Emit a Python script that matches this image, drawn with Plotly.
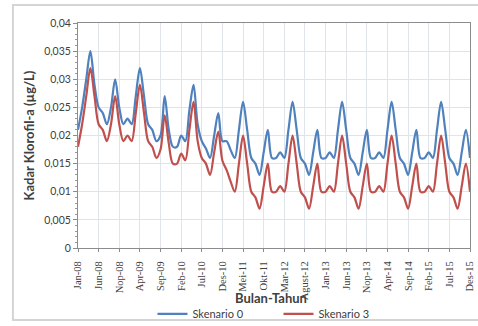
import plotly.graph_objects as go

# Monthly chlorophyll-a concentration, Jan-2008 .. Dec-2015 (96 months)
skenario_0 = [
    0.021, 0.025, 0.030, 0.035, 0.029, 0.025, 0.024, 0.022, 0.025, 0.030, 0.025, 0.022,   # 2008
    0.023, 0.022, 0.027, 0.032, 0.027, 0.022, 0.021, 0.019, 0.020, 0.027, 0.021, 0.018,   # 2009
    0.018, 0.020, 0.019, 0.0245, 0.029, 0.022, 0.019, 0.0177, 0.016, 0.020, 0.024, 0.019, # 2010
    0.019, 0.0174, 0.016, 0.021, 0.026, 0.021, 0.016, 0.015, 0.013, 0.017, 0.021, 0.016,  # 2011
    0.016, 0.017, 0.016, 0.021, 0.026, 0.021, 0.016, 0.015, 0.013, 0.017, 0.021, 0.016,   # 2012
    0.016, 0.017, 0.016, 0.021, 0.026, 0.021, 0.016, 0.015, 0.013, 0.017, 0.021, 0.016,   # 2013
    0.016, 0.017, 0.016, 0.021, 0.026, 0.021, 0.016, 0.015, 0.013, 0.017, 0.021, 0.016,   # 2014
    0.016, 0.017, 0.016, 0.021, 0.026, 0.021, 0.016, 0.015, 0.013, 0.017, 0.021, 0.016,   # 2015
]
skenario_3 = [
    0.018, 0.022, 0.027, 0.032, 0.027, 0.022, 0.021, 0.019, 0.022, 0.027, 0.022, 0.019,   # 2008
    0.020, 0.019, 0.024, 0.029, 0.024, 0.019, 0.018, 0.016, 0.0175, 0.0236, 0.0186, 0.015,  # 2009
    0.015, 0.0168, 0.0156, 0.021, 0.026, 0.019, 0.016, 0.015, 0.013, 0.017, 0.0207, 0.0155, # 2010
    0.0139, 0.0118, 0.010, 0.015, 0.020, 0.015, 0.010, 0.009, 0.007, 0.011, 0.015, 0.010, # 2011
    0.010, 0.011, 0.010, 0.015, 0.020, 0.015, 0.010, 0.009, 0.007, 0.011, 0.015, 0.010,   # 2012
    0.010, 0.011, 0.010, 0.015, 0.020, 0.015, 0.010, 0.009, 0.007, 0.011, 0.015, 0.010,   # 2013
    0.010, 0.011, 0.010, 0.015, 0.020, 0.015, 0.010, 0.009, 0.007, 0.011, 0.015, 0.010,   # 2014
    0.010, 0.011, 0.010, 0.015, 0.020, 0.015, 0.010, 0.009, 0.007, 0.011, 0.015, 0.010,   # 2015
]

# Category labels shown every fifth month
x_labels = ["Jan-08", "Jun-08", "Nop-08", "Apr-09", "Sep-09", "Feb-10", "Jul-10",
            "Des-10", "Mei-11", "Okt-11", "Mar-12", "Agust-12", "Jan-13", "Jun-13",
            "Nop-13", "Apr-14", "Sep-14", "Feb-15", "Jul-15", "Des-15"]
x_label_pos = [5 * k for k in range(len(x_labels))]

y_tick_vals = [0, 0.005, 0.01, 0.015, 0.02, 0.025, 0.03, 0.035, 0.04]
y_tick_text = ["0", "0,005", "0,01", "0,015", "0,02", "0,025", "0,03", "0,035", "0,04"]

months = list(range(len(skenario_0)))

fig = go.Figure()
fig.add_trace(go.Scatter(
    x=months, y=skenario_0, name="Skenario 0", mode="lines",
    line=dict(color="#4F81BD", width=2.2, shape="spline", smoothing=0.9),
))
fig.add_trace(go.Scatter(
    x=months, y=skenario_3, name="Skenario 3", mode="lines",
    line=dict(color="#C0504D", width=2.2, shape="spline", smoothing=0.9),
))

# Light frame around the whole chart
fig.add_shape(type="rect", xref="paper", yref="paper",
              x0=-0.166, x1=1.1, y0=-0.32, y1=1.08,
              line=dict(color="#d4d4d4", width=2), layer="below")

# Horizontal axis title, set just under the rotated month labels
fig.add_annotation(text="<b>Bulan-Tahun</b>", xref="paper", yref="paper",
                   x=0.492, y=-0.222, xanchor="center", yanchor="middle",
                   showarrow=False,
                   font=dict(family="Lato, sans-serif", size=13, color="#404040"))

fig.update_layout(
    width=478, height=326,
    margin=dict(l=78, r=8, t=23, b=78, autoexpand=False),
    paper_bgcolor="white", plot_bgcolor="white",
    font=dict(family="Lato, Open Sans, sans-serif", color="#404040", size=10),
    showlegend=True,
    legend=dict(orientation="h", x=0.19, y=-0.293, xanchor="left", yanchor="middle",
                font=dict(family="Lato, sans-serif", size=11, color="#404040"),
                itemwidth=30, entrywidth=81, entrywidthmode="pixels",
                bgcolor="rgba(0,0,0,0)"),
    xaxis=dict(
        range=[0, 95], tickvals=x_label_pos, ticktext=x_labels, tickangle=-90,
        automargin=False,
        showgrid=True, gridcolor="#dfe3ea", gridwidth=1,
        showline=True, linecolor="#8c8c8c", linewidth=1, mirror=True,
        ticks="outside", ticklen=3, tickcolor="#8c8c8c", ticklabelstandoff=5,
        tickfont=dict(family="Liberation Serif, serif", size=10.5, color="#404040"),
        zeroline=False,
    ),
    yaxis=dict(
        range=[0, 0.04], tickvals=y_tick_vals, ticktext=y_tick_text,
        automargin=False,
        showgrid=True, gridcolor="#dfe3ea", gridwidth=1,
        showline=True, linecolor="#8c8c8c", linewidth=1, mirror=True,
        ticks="outside", ticklen=4, tickcolor="#8c8c8c",
        minor=dict(dtick=0.001, ticks="outside", ticklen=2, tickcolor="#9a9a9a", showgrid=False),
        tickfont=dict(family="Lato, sans-serif", size=10.5, color="#404040"),
        zeroline=False,
        title=dict(text="<b>Kadar Klorofil-a (µg/L)</b>", standoff=6,
                   font=dict(family="Lato, sans-serif", size=13, color="#404040")),
    ),
)

fig.write_html("out.html")
